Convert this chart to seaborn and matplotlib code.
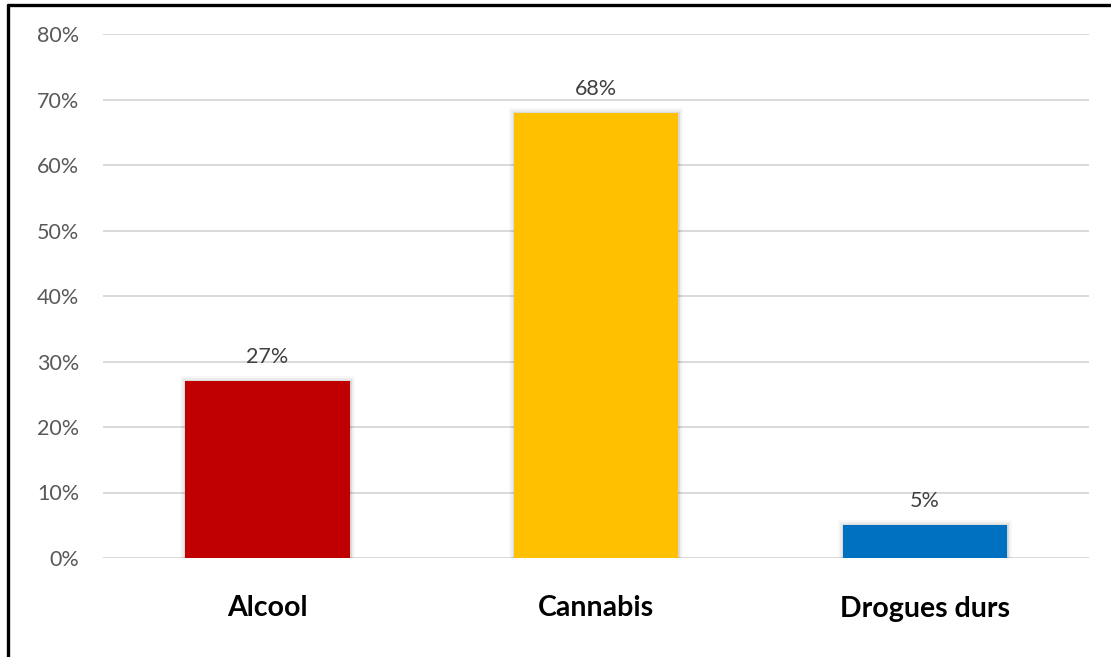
import matplotlib
matplotlib.use("Agg")
import matplotlib.pyplot as plt
import matplotlib.patheffects as pe
from matplotlib.lines import Line2D
from matplotlib.ticker import PercentFormatter
import seaborn as sns
import pandas as pd

categories = ["Alcool", "Cannabis", "Drogues durs"]
values = [0.27, 0.68, 0.05]
colors = ["#C00000", "#FFC000", "#0070C0"]
y_ticks = [0.0, 0.1, 0.2, 0.3, 0.4, 0.5, 0.6, 0.7, 0.8]

sns.set_theme(style="white")
plt.rcParams["font.family"] = ["Lato", "DejaVu Sans"]

df = pd.DataFrame({"categorie": categories, "part": values})

fig = plt.figure(figsize=(11.11, 6.57), dpi=100)
W, H = 1111, 657
ax = fig.add_axes([103 / W, (H - 558) / H, (1089 - 103) / W, (558 - 34) / H])

sns.barplot(data=df, x="categorie", y="part", hue="categorie",
            palette=colors, width=0.5, legend=False, ax=ax, zorder=3,
            saturation=1)

# soft shadow around each bar
for bar in ax.patches:
    bar.set_linewidth(0)
    bar.set_path_effects([
        pe.Stroke(linewidth=7, foreground="#000000", alpha=0.03),
        pe.Stroke(linewidth=4, foreground="#000000", alpha=0.05),
        pe.Stroke(linewidth=2, foreground="#000000", alpha=0.07),
        pe.Normal(),
    ])

for bar, v in zip(ax.patches, values):
    ax.annotate(f"{round(v * 100)}%", (bar.get_x() + bar.get_width() / 2, v),
                xytext=(0, 10), textcoords="offset points",
                ha="center", va="bottom", fontsize=15.5, color="#404040")

ax.set_xlim(-0.5, 2.5)
ax.set_ylim(0, 0.8)
ax.set_yticks(y_ticks)
ax.yaxis.set_major_formatter(PercentFormatter(1.0, decimals=0))
ax.grid(axis="y", color="#d9d9d9", linewidth=1.4, zorder=0)
ax.set_axisbelow(True)
for s in ax.spines.values():
    s.set_visible(False)
ax.set_xlabel("")
ax.set_ylabel("")
ax.tick_params(axis="y", length=0, pad=17, labelsize=15.5, labelcolor="#595959")
ax.tick_params(axis="x", length=0, pad=27, labelsize=20.5, labelcolor="#000000")
for lbl in ax.get_xticklabels():
    lbl.set_fontweight("bold")

# frame lines on the left and top of the figure
fig.add_artist(Line2D([8 / W, 8 / W], [0, 1 - 5 / H], color="black",
                      linewidth=2.4, transform=fig.transFigure))
fig.add_artist(Line2D([8 / W, 1], [1 - 5 / H, 1 - 5 / H], color="black",
                      linewidth=2.4, transform=fig.transFigure))

fig.savefig("out.png", dpi=100, facecolor="white")
